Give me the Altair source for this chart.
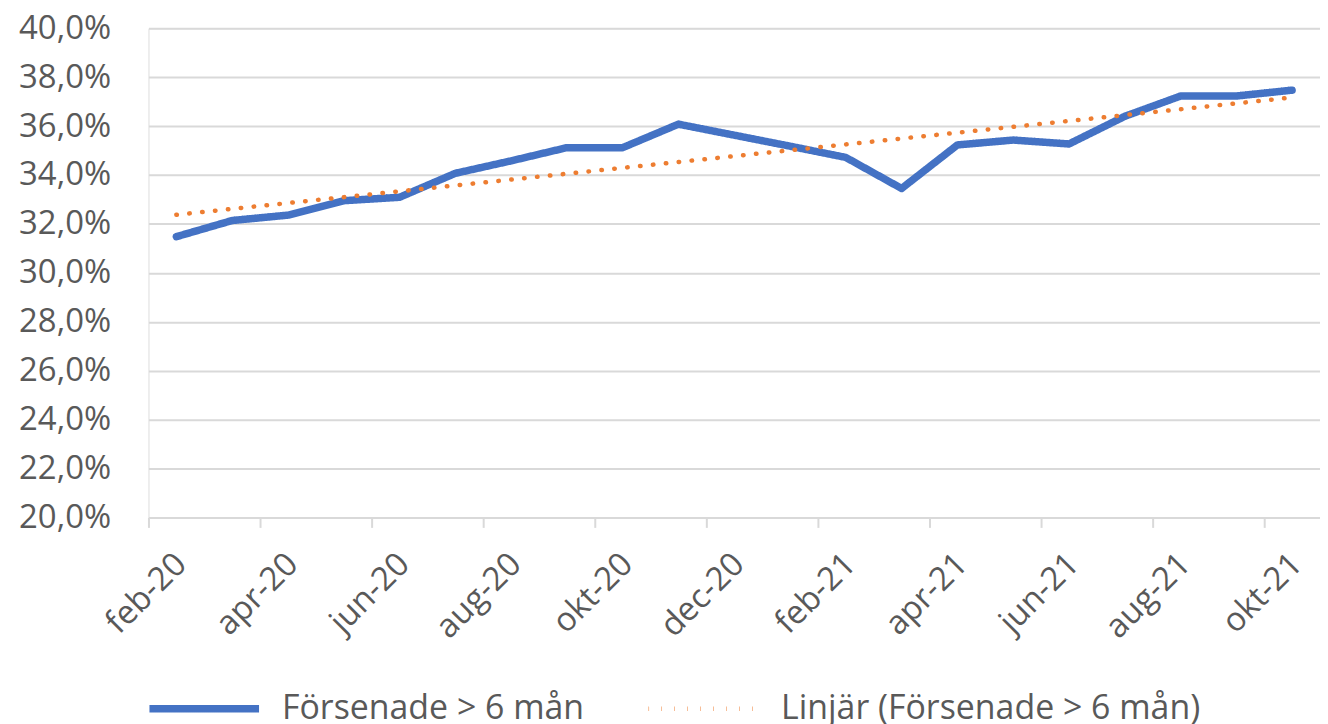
import altair as alt
import pandas as pd

months = ["feb-20", "mar-20", "apr-20", "maj-20", "jun-20", "jul-20", "aug-20",
          "sep-20", "okt-20", "nov-20", "dec-20", "jan-21", "feb-21", "mar-21",
          "apr-21", "maj-21", "jun-21", "jul-21", "aug-21", "sep-21", "okt-21"]
values = [31.48, 32.14, 32.36, 32.95, 33.09, 34.07, 34.58, 35.12, 35.12, 36.08,
          35.63, 35.18, 34.72, 33.45, 35.23, 35.43, 35.27, 36.40, 37.23, 37.23, 37.47]
series_names = ["Försenade > 6 mån", "Linjär (Försenade > 6 mån)"]
y_ticks = [20, 22, 24, 26, 28, 30, 32, 34, 36, 38, 40]

df = pd.DataFrame({"idx": list(range(len(months))), "month": months, "val": values})

W = 1176
H = 491
n = len(months)
step = W / n
FONT = "Open Sans"
GRAY = "#595959"
GRID = "#d9d9d9"
FS = 33

month_arr = "[" + ",".join("'%s'" % m for m in months) + "]"

x_enc = alt.X(
    "idx:Q",
    scale=alt.Scale(domain=[-0.5, n - 0.5], nice=False, zero=False),
    axis=alt.Axis(
        values=list(range(0, n, 2)),
        labelExpr=month_arr + "[datum.value]",
        title=None,
        grid=False,
        domainColor=GRID,
        domainWidth=2,
        tickColor=GRID,
        tickWidth=2,
        tickSize=10,
        tickOffset=-step / 2,
        labelOffset=step / 2 - 7,
        labelAngle=-45,
        labelAlign="right",
        labelBaseline="top",
        labelPadding=20,
        labelFont=FONT,
        labelFontSize=FS,
        labelColor=GRAY,
    ),
)
y_enc = alt.Y(
    "val:Q",
    scale=alt.Scale(domain=[20, 40], nice=False, zero=False),
    axis=alt.Axis(
        values=y_ticks,
        labelExpr="replace(format(datum.value, '.1f'), '.', ',') + '%'",
        title=None,
        domain=False,
        ticks=False,
        gridColor=GRID,
        gridWidth=2,
        labelPadding=38,
        labelFont=FONT,
        labelFontSize=FS,
        labelColor=GRAY,
    ),
)

color_enc = alt.Color(
    "series:N",
    scale=alt.Scale(domain=series_names, range=["#4472C4", "#ED7D31"]),
    legend=alt.Legend(
        title=None,
        orient="none",
        direction="horizontal",
        legendX=39,
        legendY=666,
        symbolType="M-5,0H5",
        symbolSize=484,
        labelFont=FONT,
        labelFontSize=34,
        labelColor=GRAY,
        labelLimit=0,
        labelOffset=61,
        columnPadding=55,
    ),
)
dash_enc = alt.StrokeDash(
    "series:N",
    scale=alt.Scale(domain=series_names, range=[[1, 0], [0.5, 12.5]]),
)
width_enc = alt.StrokeWidth(
    "series:N",
    scale=alt.Scale(domain=series_names, range=[7.5, 4.5]),
)

base = alt.Chart(df)

line = base.transform_calculate(series="'%s'" % series_names[0]).mark_line(
    strokeCap="round", strokeJoin="round"
).encode(x=x_enc, y=y_enc, color=color_enc, strokeDash=dash_enc, strokeWidth=width_enc)

trend = base.transform_regression("idx", "val", method="linear").transform_calculate(
    series="'%s'" % series_names[1]
).mark_line(strokeCap="round").encode(
    x=x_enc, y=y_enc, color=color_enc, strokeDash=dash_enc, strokeWidth=width_enc
)

chart = alt.layer(line, trend).properties(
    width=W, height=H, padding={"left": 10, "top": 3, "right": 0, "bottom": 0}
).configure_view(stroke=None).configure(background="white")

chart.save("out.html", embed_options={"renderer": "svg", "actions": False})
